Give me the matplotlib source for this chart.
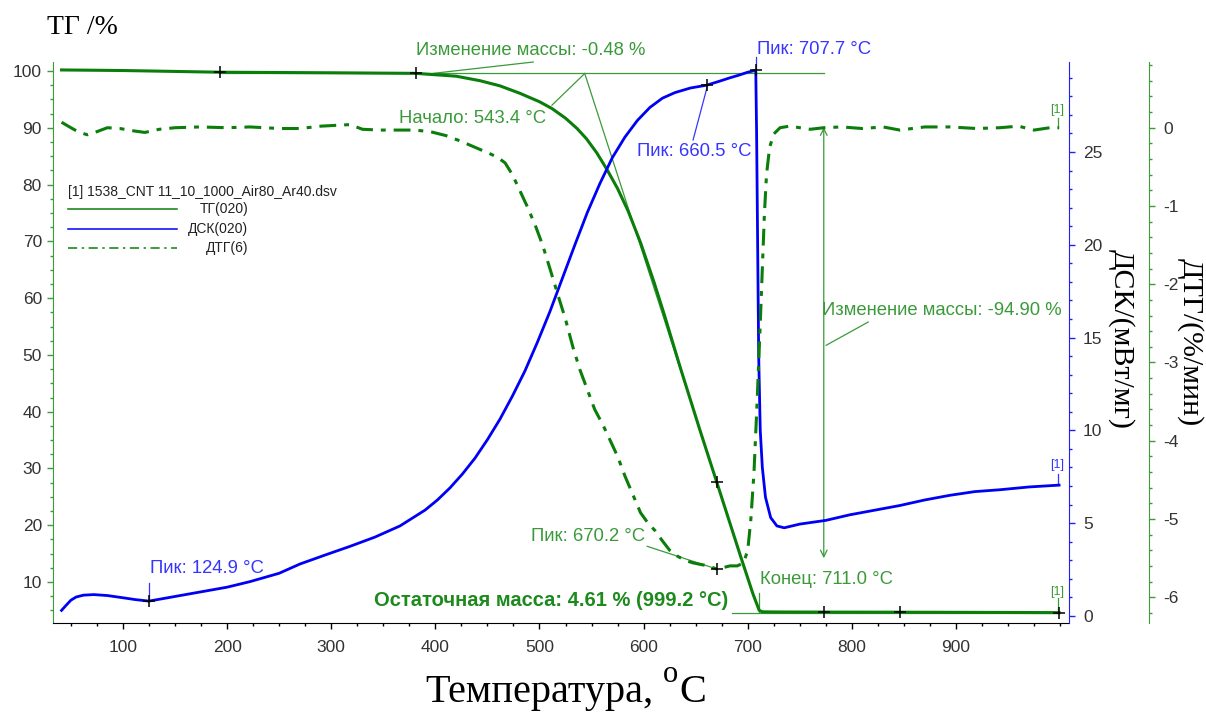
import matplotlib
matplotlib.use('Agg')
import matplotlib.pyplot as plt
from matplotlib.ticker import MultipleLocator
from matplotlib.lines import Line2D

plt.rcParams['font.family'] = ['Liberation Sans', 'DejaVu Sans']

# ---------------- data ----------------
temp_tg = [41, 100, 193, 300, 381, 420, 443, 462, 481, 500, 512, 525, 536, 545, 555,
           565, 575, 585, 597, 610, 620, 635, 654, 670.2, 693, 705, 711, 714, 730,
           773, 846, 920, 999]
tg = [100.2, 100.1, 99.8, 99.7, 99.6, 99.1, 98.3, 97.4, 96.1, 94.6, 93.4, 91.7, 89.9,
      88.1, 85.6, 82.6, 79.3, 75.4, 69.8, 62.8, 57.0, 47.9, 36.8, 27.6, 14.6, 7.9,
      5.0, 4.75, 4.72, 4.7, 4.68, 4.65, 4.61]

temp_dsc = [41, 45, 50, 55, 62, 72, 85, 100, 112, 124.9, 140, 160, 180, 200, 222,
            250, 270, 295, 318, 342, 366, 390, 402, 414, 426, 438, 450, 462, 474, 486,
            498, 510, 522, 534, 546, 558, 570, 582, 594, 606, 618, 630, 645, 660.5,
            672, 683, 692, 700, 707.7, 708.5, 709.5, 710.5, 712, 714, 717, 722, 728,
            735, 750, 775, 798, 822, 846, 870, 894, 918, 942, 970, 999]
dsc = [0.3, 0.55, 0.85, 1.02, 1.12, 1.15, 1.1, 0.98, 0.88, 0.8, 0.95, 1.15, 1.35,
       1.55, 1.85, 2.3, 2.8, 3.3, 3.75, 4.25, 4.85, 5.7, 6.25, 6.9, 7.65, 8.5, 9.5,
       10.6, 11.85, 13.2, 14.75, 16.4, 18.2, 20.0, 21.75, 23.3, 24.7, 25.8, 26.7,
       27.4, 27.9, 28.2, 28.45, 28.6, 28.8, 29.0, 29.15, 29.3, 29.4, 26.0, 20.0,
       14.0, 10.0, 8.0, 6.4, 5.3, 4.85, 4.75, 4.95, 5.15, 5.45, 5.7, 5.95, 6.25, 6.5,
       6.7, 6.8, 6.95, 7.05]

temp_dtg = [41, 50, 58, 66, 75, 85, 97, 110, 121, 135, 150, 174, 200, 222, 250, 270,
            290, 318, 330, 347, 366, 380, 395, 410, 424, 438, 452, 460, 467, 474, 481,
            488, 496, 503, 510, 518, 525, 532, 539, 546, 553, 561, 568, 575, 582, 590,
            597, 604, 611, 618, 625, 633, 640, 647, 654, 662, 670.2, 677, 683, 690,
            696, 700, 703, 706, 709, 712, 714, 716, 718, 721, 725, 731, 740, 750, 760,
            773, 790, 810, 830, 846, 870, 894, 920, 942, 960, 975, 990, 999]
dtg = [0.07, 0.0, -0.06, -0.09, -0.05, 0.0, -0.01, -0.04, -0.06, -0.02, 0.0, 0.01,
       0.0, 0.01, -0.01, -0.01, 0.02, 0.04, -0.02, -0.03, -0.03, -0.03, -0.05, -0.1,
       -0.17, -0.25, -0.33, -0.38, -0.45, -0.6, -0.8, -1.0, -1.25, -1.5, -1.8, -2.15,
       -2.45, -2.8, -3.1, -3.35, -3.6, -3.8, -4.0, -4.2, -4.45, -4.7, -4.92, -5.05,
       -5.15, -5.28, -5.4, -5.48, -5.53, -5.56, -5.58, -5.6, -5.64, -5.62, -5.6, -5.6,
       -5.56, -5.4, -5.0, -4.4, -3.5, -2.5, -1.8, -1.1, -0.6, -0.25, -0.08, 0.0, 0.02,
       0.0, -0.02, 0.0, 0.01, -0.01, 0.01, -0.03, 0.01, 0.01, -0.01, 0.0, 0.02, -0.03,
       0.0, 0.0]

x_ticks = [100, 200, 300, 400, 500, 600, 700, 800, 900]
tg_ticks = [10, 20, 30, 40, 50, 60, 70, 80, 90, 100]
dsc_ticks = [0, 5, 10, 15, 20, 25]
dtg_ticks = [0, -1, -2, -3, -4, -5, -6]

# ---------------- style ----------------
C_TG = '#0a7d0a'
C_GSPINE = '#3a9d3a'
C_GTXT = '#3a9a3a'
C_DSC = '#0000f5'
C_BSPINE = '#2020ff'
C_BTXT = '#3535ff'
C_TICKLBL = '#333333'

W, H = 1206, 713
fig = plt.figure(figsize=(W / 100, H / 100), dpi=100)
ax = fig.add_axes([53 / W, 1 - 623 / H, (1069 - 53) / W, (623 - 62) / H])
ax2 = ax.twinx()
ax3 = ax.twinx()

ax.set_xlim(32.8, 1008.5)
ax.set_ylim(2.78, 101.6)
ax2.set_ylim(-0.38, 29.85)
ax3.set_ylim(-6.33, 0.84)

# lines
ax.plot(temp_tg, tg, color=C_TG, lw=2.2, zorder=3)
ax2.plot(temp_dsc, dsc, color=C_DSC, lw=2.0, zorder=3)
ax3.plot(temp_dtg, dtg, color=C_TG, lw=2.2, linestyle=(0, (5.5, 2.6, 1.6, 2.6)), zorder=3)

# spines
for a in (ax, ax2, ax3):
    a.spines['top'].set_visible(False)
    a.patch.set_visible(False)
ax.spines['right'].set_visible(False)
ax.spines['left'].set_color(C_GSPINE)
ax.spines['bottom'].set_color('black')
ax2.spines['left'].set_visible(False)
ax2.spines['bottom'].set_visible(False)
ax2.spines['right'].set_color(C_BSPINE)
ax3.spines['left'].set_visible(False)
ax3.spines['bottom'].set_visible(False)
ax3.spines['right'].set_position(('outward', 57.6))
ax3.spines['right'].set_color(C_GSPINE)

# ticks
ax.xaxis.set_major_locator(plt.FixedLocator(x_ticks))
ax.xaxis.set_minor_locator(MultipleLocator(25))
ax.yaxis.set_major_locator(plt.FixedLocator(tg_ticks))
ax.yaxis.set_minor_locator(MultipleLocator(2.5))
ax2.yaxis.set_major_locator(plt.FixedLocator(dsc_ticks))
ax2.yaxis.set_minor_locator(MultipleLocator(1))
ax3.yaxis.set_major_locator(plt.FixedLocator(dtg_ticks))
ax3.yaxis.set_minor_locator(MultipleLocator(0.2))

ax.tick_params(axis='x', which='major', length=4, width=1, colors='black',
               labelcolor=C_TICKLBL, labelsize=12.5, pad=8)
ax.tick_params(axis='x', which='minor', length=2.5, width=1, colors='black')
ax.tick_params(axis='y', which='major', length=4, width=1, colors=C_GSPINE,
               labelcolor=C_TICKLBL, labelsize=12.5, pad=4)
ax.tick_params(axis='y', which='minor', length=2.5, width=1, colors=C_GSPINE)
ax2.tick_params(axis='y', which='major', length=4, width=1, colors=C_BSPINE,
                labelcolor=C_TICKLBL, labelsize=12.5, pad=6)
ax2.tick_params(axis='y', which='minor', length=2.5, width=1, colors=C_BSPINE)
ax3.tick_params(axis='y', which='major', length=4, width=1, colors=C_GSPINE,
                labelcolor=C_TICKLBL, labelsize=12.5, pad=6)
ax3.tick_params(axis='y', which='minor', length=2.5, width=1, colors=C_GSPINE)
ax3.yaxis.set_major_formatter(plt.FuncFormatter(lambda v, p: f'{v:g}'.replace('−', '-')))

# axis titles
serif = ['Liberation Serif', 'DejaVu Serif']
fig.text(47 / W, 1 - 27 / H, 'ТГ /%', family=serif, fontsize=20, ha='left', va='center')

# x label: "Температура, " + raised "o" + "C"
renderer = fig.canvas.get_renderer()
base_y = 1 - 702 / H
t1 = fig.text(425 / W, base_y, 'Температура,', family=serif, fontsize=29,
              ha='left', va='baseline')
bb1 = t1.get_window_extent(renderer=renderer)
t2 = fig.text((bb1.x1 + 10) / W, 1 - 682 / H, 'o', family=serif, fontsize=22,
              ha='left', va='baseline')
bb2 = t2.get_window_extent(renderer=renderer)
fig.text((bb2.x1 + 1) / W, base_y, 'C', family=serif, fontsize=29, ha='left',
         va='baseline')

fig.text(1121 / W, 1 - 339 / H, 'ДСК/(мВт/мг)', family=serif, fontsize=21.5,
         rotation=270, ha='center', va='center')
fig.text(1190 / W, 1 - 342 / H, 'ДТГ/(%/мин)', family=serif, fontsize=21.5,
         rotation=270, ha='center', va='center')

# legend (drawn manually)
fig.text(68 / W, 1 - 192 / H, '[1] 1538_CNT 11_10_1000_Air80_Ar40.dsv', fontsize=10,
         ha='left', va='center', color='#222222')
leg_items = [('ТГ(020)', C_TG, '-'), ('ДСК(020)', C_DSC, '-'),
             ('ДТГ(6)', C_TG, (0, (6, 3, 1.5, 3)))]
for i, (lab, col, ls) in enumerate(leg_items):
    yy = 1 - (209 + 19.5 * i) / H
    fig.add_artist(Line2D([68 / W, 177 / W], [yy, yy], color=col, lw=1.1, linestyle=ls))
    fig.text(248 / W, yy, lab, fontsize=10, ha='right', va='center', color='#222222')

# ---------------- annotations ----------------
ann = dict(fontsize=13.3)
thin = dict(lw=0.9)
cross = dict(marker='+', color='black', ms=9, mew=1.1, linestyle='none', zorder=6)

# TG: mass change -0.48 %
ax.plot([193, 773], [99.6, 99.6], color=C_GTXT, **thin, zorder=2)
ax.plot([193, 381.5], [99.8, 99.6], **cross)
ax.text(492, 103.7, 'Изменение массы: -0.48 %', color=C_GTXT, ha='center', va='center',
        clip_on=False, **ann)
ax.plot([494, 398], [101.6, 99.6], color=C_GTXT, clip_on=False, **thin)

# onset
ax.plot([543.4, 670.2], [99.6, 27.6], color=C_GTXT, **thin, zorder=2)
ax.plot([512, 543], [94.0, 99.5], color=C_GTXT, **thin)
ax.text(436, 91.7, 'Начало: 543.4 °C', color=C_GTXT, ha='center', va='center', **ann)

# end
ax.plot([711, 711], [4.7, 8.06], color=C_GTXT, **thin)
ax.text(712, 10.5, 'Конец: 711.0 °C', color=C_GTXT, ha='left', va='center', **ann)

# residual mass
ax.plot([685, 999], [4.61, 4.61], color=C_GTXT, **thin, zorder=2)
ax.text(681, 6.83, 'Остаточная масса: 4.61 % (999.2 °C)', color='#1d8a1d',
        ha='right', va='center', fontweight='bold', fontsize=14.5)
ax.plot([670.2, 773, 846, 999], [27.6, 4.7, 4.68, 4.61], **cross)

# mass change -94.90 %
ax.annotate('', xy=(773, 90.1), xytext=(773, 14.2),
            arrowprops=dict(arrowstyle='<->', color=C_GTXT, lw=0.9,
                            mutation_scale=12, shrinkA=0, shrinkB=0))
ax.text(771.5, 57.9, 'Изменение массы: -94.90 %', color=C_GTXT, ha='left',
        va='center', **ann)
ax.plot([815.7, 775.3], [55.8, 51.7], color=C_GTXT, **thin)

# DSC peaks
ax2.plot([707.7, 660.5, 124.9], [29.4, 28.6, 0.8], **cross)
ax2.plot([707.7, 707.7], [29.4, 30.1], color=C_BTXT, clip_on=False, **thin)
ax2.text(709, 30.5, 'Пик: 707.7 °C', color=C_BTXT, ha='left', va='center',
         clip_on=False, **ann)
ax2.plot([647.5, 661], [25.65, 28.5], color=C_BTXT, **thin)
ax2.text(648.5, 25.05, 'Пик: 660.5 °C', color=C_BTXT, ha='center', va='center', **ann)
ax2.plot([124.9, 124.9], [0.8, 1.78], color=C_BTXT, **thin)
ax2.text(126, 2.55, 'Пик: 124.9 °C', color=C_BTXT, ha='left', va='center', **ann)

# DTG peak
ax3.plot([670.2], [-5.64], **cross)
ax3.plot([603.4, 670.2], [-5.35, -5.64], color=C_GTXT, **thin)
ax3.text(546.7, -5.22, 'Пик: 670.2 °C', color=C_GTXT, ha='center', va='center', **ann)

# [1] markers
ax3.plot([998, 998], [0.0, 0.13], color=C_GTXT, **thin)
ax3.text(997, 0.23, '[1]', color=C_GTXT, ha='center', va='center', fontsize=9)
ax2.plot([998, 998], [7.05, 7.65], color=C_BTXT, **thin)
ax2.text(997, 8.14, '[1]', color=C_BTXT, ha='center', va='center', fontsize=9)
ax.plot([998, 998], [4.65, 7.2], color=C_GTXT, **thin)
ax.text(997, 8.24, '[1]', color=C_GTXT, ha='center', va='center', fontsize=9)

fig.savefig('out.png', dpi=100)
